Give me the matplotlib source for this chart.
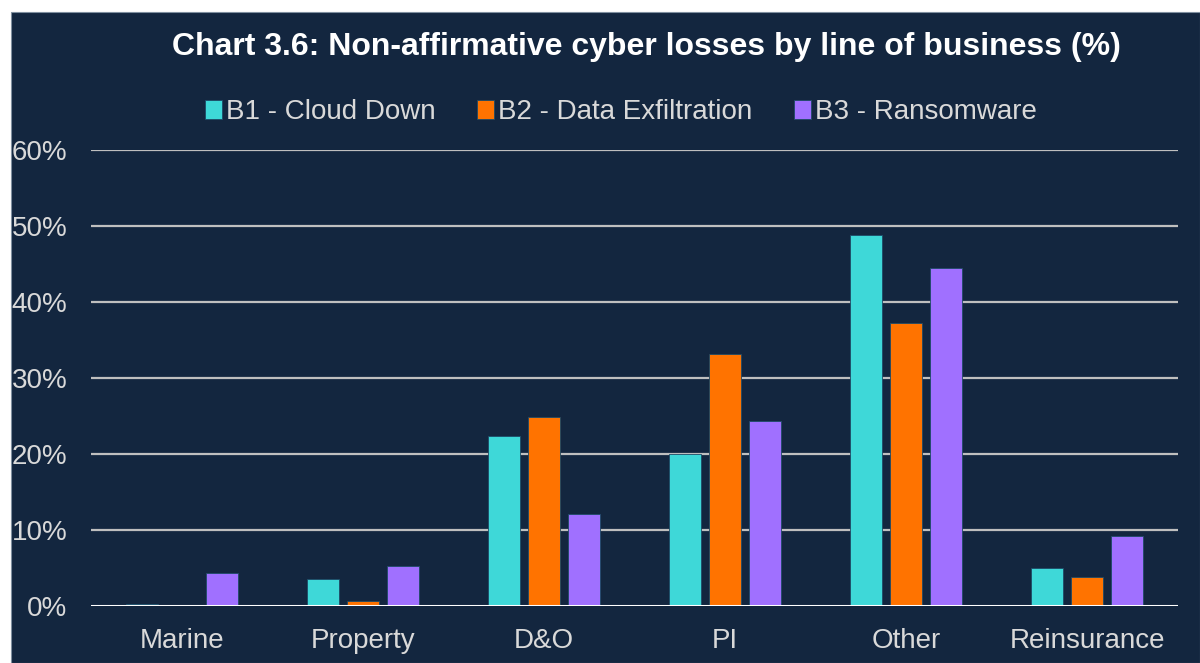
import matplotlib
matplotlib.use("Agg")
import matplotlib.pyplot as plt
import numpy as np
from matplotlib.patches import Rectangle

categories = ["Marine", "Property", "D&O", "PI", "Other", "Reinsurance"]
series_names = ["B1 - Cloud Down", "B2 - Data Exfiltration", "B3 - Ransomware"]
b1_cloud_down = [0.2, 3.5, 22.4, 20.0, 48.8, 5.0]
b2_data_exfiltration = [0.0, 0.7, 24.9, 33.2, 37.2, 3.8]
b3_ransomware = [4.3, 5.3, 12.1, 24.3, 44.5, 9.2]
yticks = [0, 10, 20, 30, 40, 50, 60]
title = "Chart 3.6: Non-affirmative cyber losses by line of business (%)"

colors = ["#3ED8D8", "#FF7300", "#A070FF"]
bg = "#13263F"
text_col = "#D9D9D9"

plt.rcParams['font.family'] = ['Liberation Sans', 'DejaVu Sans']

fig = plt.figure(figsize=(12, 6.63), dpi=100)
fig.patch.set_facecolor("white")
fig.patches.append(Rectangle((11/1200, 0), 1 - 11/1200, (663-12)/663,
                             transform=fig.transFigure, facecolor=bg,
                             edgecolor="#8090A0", linewidth=0.8, zorder=-10))

ax = fig.add_axes([91/1200, 1-606/663, (1178-91)/1200, (606-150)/663])
ax.set_facecolor(bg)
ax.patch.set_alpha(0)

x = np.arange(len(categories))
width = 0.177
step = 0.221
for i, (vals, name) in enumerate(zip([b1_cloud_down, b2_data_exfiltration, b3_ransomware], series_names)):
    ax.bar(x + (i - 1) * step, vals, width=width, color=colors[i], label=name,
           edgecolor="#1E4A66", linewidth=0.6, zorder=3)

ax.set_xlim(-0.5, len(categories) - 0.5)
ax.set_ylim(0, 60)
ax.set_yticks(yticks)
ax.set_yticklabels([f"{t}%" for t in yticks])
ax.set_xticks(x)
ax.set_xticklabels(categories)
for t in yticks[1:]:
    ax.axhline(t, color="#BFBFBF", linewidth=1.6, zorder=1)
ax.axhline(0, color="white", linewidth=2.2, zorder=4)

for s in ax.spines.values():
    s.set_visible(False)
ax.tick_params(axis='both', length=0, colors=text_col, labelsize=20)
ax.tick_params(axis='y', pad=17)
ax.tick_params(axis='x', pad=15.5)

fig.text(646/1200, 1-47/663, title, ha="center", va="center",
         fontsize=23, fontweight="bold", color="white")

leg = fig.legend(loc="center", bbox_to_anchor=(621/1200, 1-112/663), ncol=3,
                 frameon=False, fontsize=20, handlelength=0.6, handleheight=0.65,
                 handletextpad=0.15, columnspacing=1.5)
for t in leg.get_texts():
    t.set_color(text_col)

fig.savefig("out.png", dpi=100, facecolor=fig.get_facecolor())
